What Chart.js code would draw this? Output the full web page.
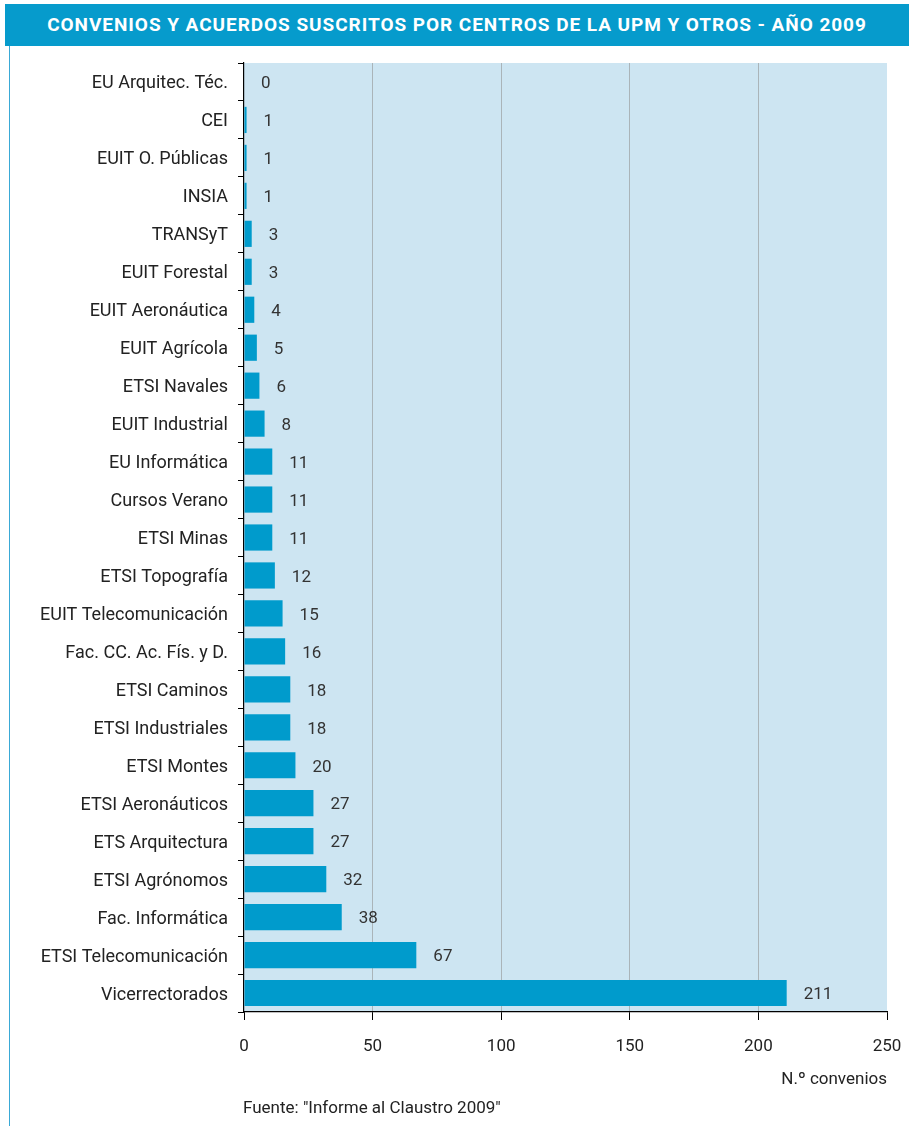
<!DOCTYPE html>
<html>
<head>
<meta charset="utf-8">
<script src="https://cdn.jsdelivr.net/npm/chart.js@4/dist/chart.umd.min.js"></script>
<style>
    body { margin: 0; background: #fff; font-family: Roboto, sans-serif; }
    #page { position: relative; width: 909px; height: 1126px; overflow: hidden; }
    #leftRule { position: absolute; left: 9px; top: 46px; width: 1px; height: 1080px; background: #3aa9d6; }
    #titleBar {
        position: absolute; left: 5px; top: 4px; width: 904px; height: 42px;
        background: #069bcc; color: #fff; font-weight: 700; font-size: 19px;
        line-height: 42px; text-align: center; letter-spacing: 0.95px; white-space: nowrap;
    }
    #chartBox { position: absolute; left: 0; top: 0; width: 909px; height: 1126px; }
    #axisTitle { position: absolute; right: 22px; top: 1068px; font-size: 17px; color: #222; }
    #source { position: absolute; left: 243px; top: 1097px; font-size: 17px; color: #222; }
</style>
</head>
<body>
<div id="page">
    <div id="leftRule"></div>
    <div id="titleBar">CONVENIOS Y ACUERDOS SUSCRITOS POR CENTROS DE LA UPM Y OTROS - AÑO 2009</div>
    <div id="chartBox"><canvas id="convChart"></canvas></div>
    <div id="axisTitle">N.º convenios</div>
    <div id="source">Fuente: "Informe al Claustro 2009"</div>
</div>
<script>
    // --- DATA ---
    const centros = [
        "EU Arquitec. Téc.", "CEI", "EUIT O. Públicas", "INSIA", "TRANSyT",
        "EUIT Forestal", "EUIT Aeronáutica", "EUIT Agrícola", "ETSI Navales", "EUIT Industrial",
        "EU Informática", "Cursos Verano", "ETSI Minas", "ETSI Topografía", "EUIT Telecomunicación",
        "Fac. CC. Ac. Fís. y D.", "ETSI Caminos", "ETSI Industriales", "ETSI Montes", "ETSI Aeronáuticos",
        "ETS Arquitectura", "ETSI Agrónomos", "Fac. Informática", "ETSI Telecomunicación", "Vicerrectorados"
    ];
    const convenios = [
        0, 1, 1, 1, 3,
        3, 4, 5, 6, 8,
        11, 11, 11, 12, 15,
        16, 18, 18, 20, 27,
        27, 32, 38, 67, 211
    ];
    const xTicks = [0, 50, 100, 150, 200, 250];

    const barColor = "#009bcc";
    const plotBg = "#cde5f2";

    // light blue fill behind the plot area
    const plotBackground = {
        id: "plotBackground",
        beforeDraw(chart) {
            const { ctx, chartArea: a } = chart;
            ctx.save();
            ctx.fillStyle = plotBg;
            ctx.fillRect(a.left, a.top, a.right - a.left, a.bottom - a.top);
            ctx.restore();
        }
    };

    // numbers written to the right of each bar
    const valueLabels = {
        id: "valueLabels",
        afterDatasetsDraw(chart) {
            const { ctx } = chart;
            const meta = chart.getDatasetMeta(0);
            ctx.save();
            ctx.font = "17px Roboto, sans-serif";
            ctx.fillStyle = "#333";
            ctx.textAlign = "left";
            ctx.textBaseline = "middle";
            meta.data.forEach((bar, i) => {
                ctx.fillText(String(convenios[i]), bar.x + 17, bar.y + 2);
            });
            ctx.restore();
        }
    };

    const canvas = document.getElementById("convChart");
    new Chart(canvas.getContext("2d"), {
        type: "bar",
        data: {
            labels: centros,
            datasets: [{
                data: convenios,
                backgroundColor: barColor,
                borderWidth: 0,
                categoryPercentage: 1,
                barPercentage: 0.69
            }]
        },
        options: {
            indexAxis: "y",
            responsive: true,
            maintainAspectRatio: false,
            animation: false,
            layout: { padding: { top: 63, right: 22, left: 0, bottom: 0 } },
            plugins: { legend: { display: false }, tooltip: { enabled: false } },
            scales: {
                x: {
                    min: 0,
                    max: 250,
                    afterBuildTicks: scale => { scale.ticks = xTicks.map(v => ({ value: v })); },
                    afterFit: scale => {
                        scale.height = 114;
                        scale.paddingRight = 0;
                        scale.paddingLeft = 0;
                    },
                    border: { color: "#000", width: 1.2 },
                    grid: {
                        color: ctx => (ctx.tick && ctx.tick.value > 0 && ctx.tick.value < 250) ? "#aab4b9" : "rgba(0,0,0,0)",
                        tickColor: "#000",
                        tickLength: 8,
                        lineWidth: 1
                    },
                    ticks: { color: "#222", font: { family: "Roboto", size: 17 }, padding: 17 }
                },
                y: {
                    afterFit: scale => { scale.width = 244; },
                    border: { color: "#000", width: 1.2 },
                    grid: {
                        offset: true,
                        drawOnChartArea: false,
                        tickColor: "#000",
                        tickLength: 6
                    },
                    ticks: { color: "#222", font: { family: "Roboto", size: 18 }, padding: 10, labelOffset: 2, autoSkip: false }
                }
            }
        },
        plugins: [plotBackground, valueLabels]
    });
</script>
</body>
</html>
